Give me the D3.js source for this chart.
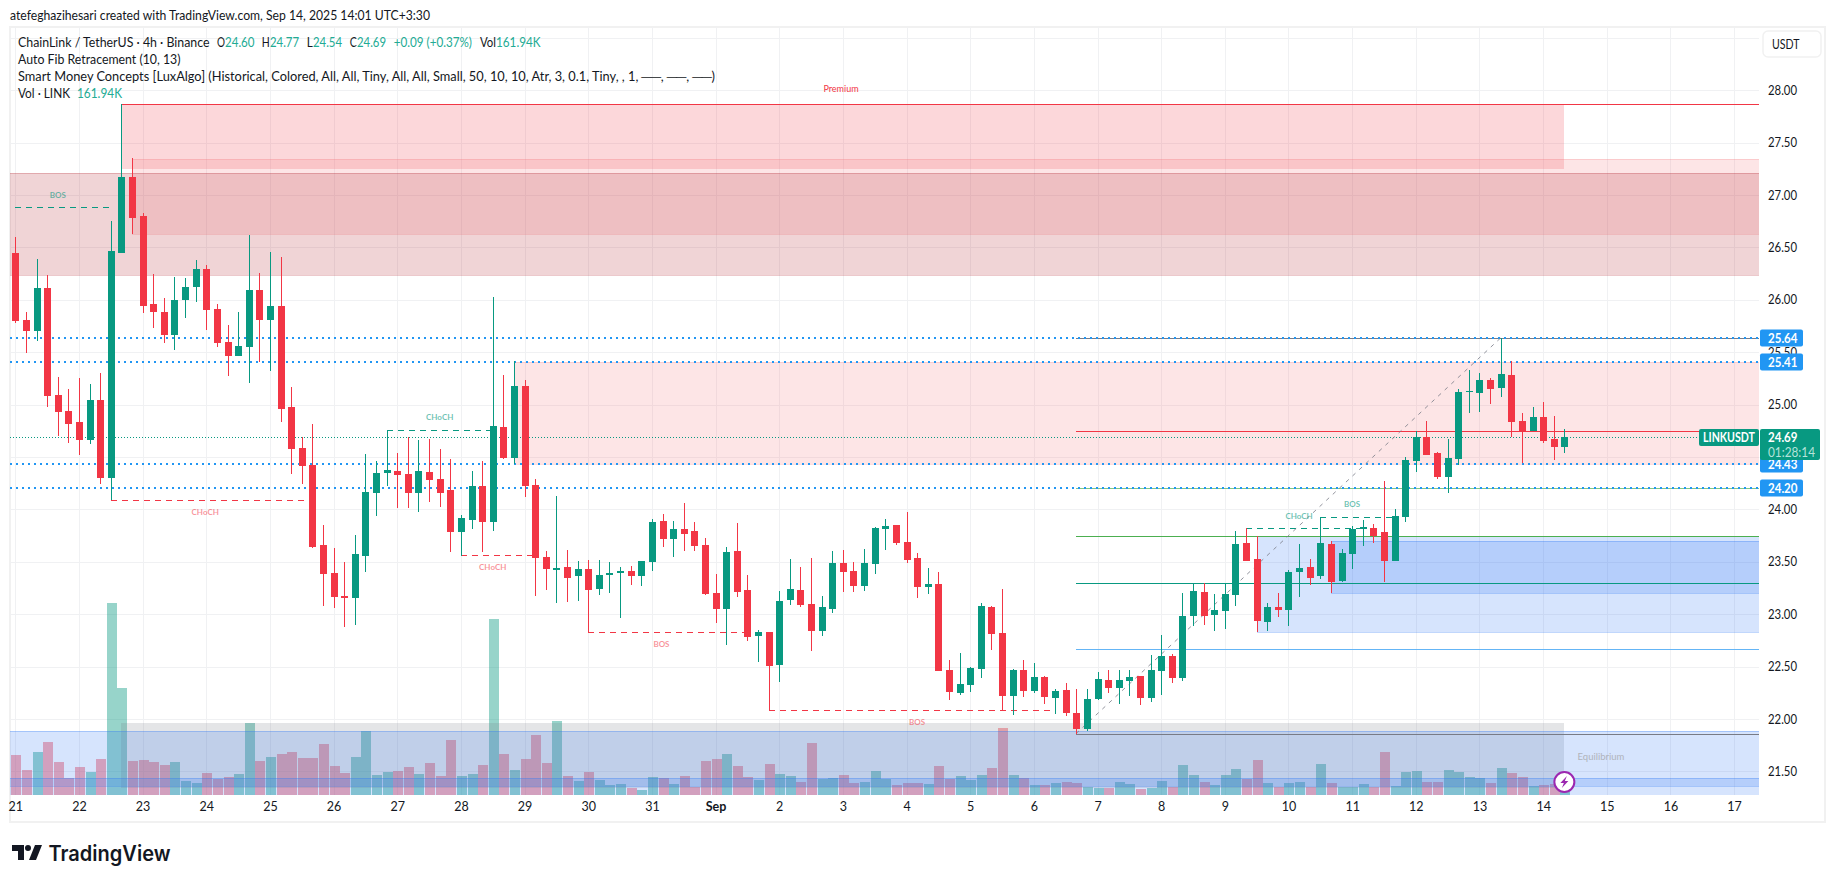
<!DOCTYPE html>
<html>
<head>
<meta charset="utf-8">
<title>LINKUSDT 4h</title>
<script src="https://cdn.jsdelivr.net/npm/d3@7/dist/d3.min.js"></script>
<style>
  html, body { margin: 0; padding: 0; background: #fff; }
  svg { display: block; }
  text { font-family: Lato, "Noto Sans", sans-serif; fill: #131722; }
</style>
</head>
<body>
<svg id="chart" width="1835" height="883"></svg>
<script>
// 4h candles, LINK / USDT on Binance, one row per ten bars
const opens = [
  26.45,25.81,25.70,26.11,25.09,24.94,24.83,24.66,25.04,24.30,
  26.45,27.17,26.80,25.96,25.88,25.66,26.00,26.12,26.29,25.91,
  25.60,25.46,25.55,26.09,25.81,25.94,24.98,24.59,24.42,23.66,
  23.39,23.17,23.15,23.56,24.16,24.35,24.37,24.34,24.16,24.36,
  24.29,24.19,23.78,23.90,24.22,23.88,24.79,24.49,25.18,24.23,
  23.55,23.42,23.45,23.36,23.43,23.24,23.37,23.39,23.41,23.36,
  23.50,23.89,23.72,23.81,23.79,23.66,23.20,23.05,23.60,23.23,
  22.79,22.83,22.52,23.14,23.23,23.10,22.84,23.05,23.49,23.41,
  23.27,23.48,23.81,23.85,23.69,23.54,23.26,23.29,22.47,22.25,
  22.32,22.48,23.07,22.82,22.22,22.47,22.27,22.40,22.20,22.28,
  22.06,21.90,22.19,22.37,22.30,22.36,22.41,22.20,22.46,22.60,
  22.39,22.98,23.21,22.99,23.03,23.18,23.68,23.53,22.93,23.07,
  23.04,23.40,23.45,23.36,23.67,23.32,23.57,23.81,23.82,23.78,
  23.51,23.93,24.46,24.69,24.54,24.31,24.48,25.12,25.11,25.24,
  25.16,25.28,24.84,24.75,24.88,24.67,24.60];
const highs = [
  26.60,25.88,26.39,26.24,25.26,25.15,25.25,25.20,25.30,26.75,
  27.87,27.35,26.83,26.25,26.02,26.22,26.21,26.38,26.33,25.96,
  25.76,25.88,26.62,26.26,26.46,26.41,25.17,24.69,24.82,23.85,
  23.63,23.50,23.76,24.53,24.46,24.76,24.54,24.69,24.66,24.67,
  24.58,24.48,23.95,24.37,24.46,26.03,25.28,25.42,25.24,24.29,
  23.60,24.13,23.61,23.51,23.52,23.52,23.50,23.45,23.46,23.51,
  23.91,23.96,23.89,24.06,23.88,23.73,23.38,23.64,23.87,23.37,
  22.85,22.83,23.22,23.53,23.45,23.54,23.17,23.60,23.61,23.50,
  23.62,23.83,23.91,23.85,23.98,23.58,23.44,23.40,22.56,22.63,
  22.50,23.11,23.08,23.24,22.48,22.56,22.53,22.41,22.29,22.34,
  22.29,22.29,22.45,22.47,22.47,22.47,22.41,22.61,22.80,22.62,
  23.20,23.30,23.30,23.19,23.30,23.79,23.82,23.75,23.11,23.20,
  23.42,23.67,23.53,23.93,23.70,23.62,23.84,23.90,23.86,24.27,
  24.00,24.50,24.75,24.84,24.55,24.67,25.15,25.33,25.30,25.25,
  25.64,25.42,24.92,24.98,25.03,24.89,24.77];
const lows = [
  25.78,25.49,25.61,24.98,24.70,24.63,24.52,24.62,24.24,24.09,
  26.45,26.63,25.87,25.73,25.59,25.52,25.83,25.98,25.71,25.55,
  25.27,25.46,25.21,25.41,25.32,24.83,24.34,24.24,23.63,23.08,
  23.06,22.88,22.90,23.40,23.94,24.22,24.01,24.01,23.98,24.07,
  24.02,23.59,23.56,23.81,23.59,23.79,24.48,24.43,24.12,23.17,
  23.23,23.11,23.12,23.13,22.83,23.18,23.20,22.96,23.28,23.27,
  23.41,23.64,23.55,23.60,23.60,23.18,22.92,22.71,23.16,22.74,
  22.54,22.09,22.35,23.09,23.07,22.65,22.79,23.01,23.21,23.21,
  23.22,23.38,23.61,23.66,23.49,23.15,23.19,22.46,22.18,22.23,
  22.26,22.39,22.66,22.09,22.04,22.21,22.25,22.14,22.05,22.03,
  21.86,21.89,22.18,22.25,22.14,22.22,22.13,22.16,22.23,22.34,
  22.36,22.89,22.90,22.84,22.86,23.08,23.51,22.83,22.84,22.97,
  22.89,23.16,23.28,23.34,23.20,23.31,23.43,23.65,23.68,23.31,
  23.51,23.88,24.36,24.52,24.29,24.16,24.42,24.92,24.93,25.01,
  25.07,24.69,24.44,24.75,24.63,24.47,24.54];
const closes = [
  25.80,25.70,26.11,25.08,24.93,24.82,24.66,25.04,24.30,26.47,
  27.17,26.78,25.94,25.88,25.66,26.00,26.12,26.29,25.90,25.59,
  25.46,25.56,26.09,25.81,25.94,24.96,24.58,24.41,23.64,23.38,
  23.16,23.15,23.57,24.17,24.35,24.38,24.33,24.16,24.37,24.28,
  24.16,23.78,23.92,24.22,23.88,24.80,24.49,25.18,24.22,23.54,
  23.43,23.44,23.35,23.43,23.23,23.37,23.39,23.41,23.36,23.51,
  23.88,23.72,23.81,23.77,23.65,23.19,23.05,23.59,23.21,22.78,
  22.83,22.51,23.13,23.24,23.09,22.84,23.07,23.49,23.40,23.27,
  23.49,23.82,23.84,23.68,23.52,23.26,23.29,22.46,22.26,22.33,
  22.49,23.08,22.81,22.22,22.47,22.27,22.40,22.21,22.27,22.06,
  21.90,22.19,22.38,22.30,22.37,22.40,22.20,22.47,22.60,22.39,
  22.98,23.22,22.98,23.04,23.19,23.67,23.51,22.94,23.07,23.04,
  23.40,23.44,23.35,23.68,23.31,23.58,23.81,23.83,23.75,23.51,
  23.94,24.47,24.69,24.52,24.31,24.49,25.12,25.13,25.24,25.15,
  25.29,24.83,24.74,24.88,24.65,24.60,24.69];
// Volume per bar, thousands of LINK
const volumes = [
  1600,1000,1720,2120,1320,680,1120,920,1440,7680,
  4280,1360,1400,1320,1200,1320,560,480,880,640,
  720,840,2880,1360,1520,1640,1720,1480,1480,2040,
  1160,880,1520,2560,800,920,960,1120,840,1280,
  760,2200,760,840,1200,7040,1640,1000,1440,2400,
  1280,2960,760,560,920,600,400,440,280,200,
  720,680,440,760,320,1360,1440,1640,1160,720,
  600,1240,840,760,520,2080,640,680,800,480,
  520,960,640,400,480,480,440,1160,640,760,
  600,800,1080,2680,800,680,400,400,480,520,
  480,320,280,280,520,440,240,280,560,320,
  1200,800,520,400,800,1040,640,1400,480,320,
  480,520,320,1240,480,320,320,440,320,1720,
  360,920,960,520,520,1000,920,720,680,480,
  1080,880,720,360,400,440,161.94];

const dayLabels = ["21","22","23","24","25","26","27","28","29","30","31","Sep",
  "2","3","4","5","6","7","8","9","10","11","12","13","14","15","16","17"];
const barsPerDay = 6;
const gridPrices = [28.5,28,27.5,27,26.5,26,25.5,25,24.5,24,23.5,23,22.5,22,21.5];
const labelledPrices = [28,27.5,27,26.5,26,25.5,25,24,23.5,23,22.5,22,21.5];
const keyLevels = [25.64, 25.41, 24.43, 24.20];
const lastPrice = 24.69;
const fibLevels = [
  {price: 25.64, tone: "#787b86"},
  {price: 24.75, tone: "#f23645"},
  {price: 24.20, tone: "#81c784"},
  {price: 23.75, tone: "#4caf50"},
  {price: 23.30, tone: "#089981"},
  {price: 22.67, tone: "#64b5f6"},
  {price: 21.86, tone: "#787b86"}
];
const fibStartBar = 100, fibEndBar = 140, fibLow = 21.86, fibHigh = 25.64;

// Zones: first bar, last bar (null runs to the chart edge), upper price, lower price
const premiumZones  = [{from: 10, to: 146, top: 27.87, bottom: 27.25}];
const equilibriumZones = [{from: 10, to: 146, top: 21.96, bottom: 21.345}];
const bearBlocks = [
  {from: 11, to: null, top: 27.345, bottom: 26.63},
  {from: 47, to: null, top: 25.405, bottom: 24.43}
];
const bearBlocksStrong = [{from: null, to: null, top: 27.208, bottom: 26.24}];
const bullBlocks = [
  {from: 117, to: null, top: 23.75, bottom: 22.83},
  {from: 124, to: null, top: 23.70, bottom: 23.205},
  {from: null, to: null, top: 21.89, bottom: 21.276},
  {from: null, to: null, top: 21.435, bottom: 21.365}
];

// Market structure breaks
const structure = [
  {name: "BOS",   up: true,  from: 0,   to: 9,   price: 26.89, bar: 4,     lift: 12},
  {name: "CHoCH", up: false, from: 9,   to: 28,  price: 24.09, bar: 17.9,  lift: -12},
  {name: "CHoCH", up: true,  from: 35,  to: 45,  price: 24.755, bar: 40,   lift: 13},
  {name: "CHoCH", up: false, from: 42,  to: 49,  price: 23.563, bar: 45,   lift: -12},
  {name: "BOS",   up: false, from: 54,  to: 69,  price: 22.827, bar: 60.9, lift: -12},
  {name: "BOS",   up: false, from: 71,  to: 98,  price: 22.09,  bar: 85,   lift: -12},
  {name: "CHoCH", up: true,  from: 116, to: 127, price: 23.82,  bar: 121,  lift: 12},
  {name: "BOS",   up: true,  from: 123, to: 130, price: 23.926, bar: 126,  lift: 13}
];

const UP = "#089981", DOWN = "#f23645", BLUE = "#2196f3";
const plot = {left: 10, right: 1759, top: 27, bottom: 795};

const svg = d3.select("#chart");
svg.append("defs").append("clipPath").attr("id", "plot-clip").append("rect")
  .attr("x", plot.left).attr("y", plot.top)
  .attr("width", plot.right - plot.left).attr("height", plot.bottom - plot.top);

const x = d3.scaleLinear().domain([0, 146]).range([15.3, 15.3 + 146 * 10.61]);
const y = d3.scaleLinear().domain([28, 22]).range([90.3, 719]);
const yVol = d3.scaleLinear().domain([0, d3.max(volumes)]).range([plot.bottom, plot.bottom - 192]);
const bx = i => Math.round(x(i));
const py = p => Math.round(y(p)) + 0.5;

// Outer frame
svg.append("rect").attr("x", 10).attr("y", 27).attr("width", 1815).attr("height", 795)
  .attr("fill", "none").attr("stroke", "#f1f1f1").attr("stroke-width", 2);

const chart = svg.append("g").attr("clip-path", "url(#plot-clip)");

// Grid
const grid = chart.append("g").attr("stroke", "#f0f1f3").attr("stroke-width", 1).attr("shape-rendering", "crispEdges");
grid.selectAll("line.h").data(gridPrices).join("line").attr("class", "h")
  .attr("x1", plot.left).attr("x2", plot.right)
  .attr("y1", d => py(d)).attr("y2", d => py(d));
grid.selectAll("line.v").data(dayLabels).join("line").attr("class", "v")
  .attr("y1", plot.top).attr("y2", plot.bottom)
  .attr("x1", (d, k) => bx(k * barsPerDay) + 0.5).attr("x2", (d, k) => bx(k * barsPerDay) + 0.5);

// Volume columns sit under the zones
chart.append("g").attr("shape-rendering", "crispEdges").selectAll("rect").data(volumes).join("rect")
  .attr("x", (d, i) => bx(i) - 4.5).attr("width", 10)
  .attr("y", d => yVol(d)).attr("height", d => plot.bottom - yVol(d))
  .attr("fill", (d, i) => closes[i] >= opens[i] ? "rgba(8,153,129,0.42)" : "rgba(242,54,69,0.42)");

// Shaded zones with thin top and bottom edges
function drawZones(list, fill, edge) {
  const g = chart.append("g").attr("shape-rendering", "crispEdges");
  const xa = d => d.from === null ? plot.left : bx(d.from);
  const xb = d => d.to === null ? plot.right : bx(d.to);
  g.selectAll("rect").data(list).join("rect")
    .attr("x", xa).attr("width", d => xb(d) - xa(d))
    .attr("y", d => y(d.top)).attr("height", d => y(d.bottom) - y(d.top))
    .attr("fill", fill);
  if (edge) {
    g.selectAll("line.t").data(list).join("line").attr("class", "t")
      .attr("x1", xa).attr("x2", xb).attr("y1", d => py(d.top)).attr("y2", d => py(d.top))
      .attr("stroke", edge);
    g.selectAll("line.b").data(list).join("line").attr("class", "b")
      .attr("x1", xa).attr("x2", xb).attr("y1", d => py(d.bottom)).attr("y2", d => py(d.bottom))
      .attr("stroke", edge);
  }
}
drawZones(premiumZones, "rgba(242,54,69,0.2)");
drawZones(equilibriumZones, "rgba(120,123,134,0.2)");
drawZones(bearBlocks, "rgba(247,124,128,0.2)", "rgba(247,124,128,0.25)");
drawZones(bearBlocksStrong, "rgba(178,40,51,0.2)", "rgba(178,40,51,0.25)");
drawZones(bullBlocks, "rgba(49,121,245,0.2)", "rgba(49,121,245,0.3)");

const crisp = chart.append("g").attr("shape-rendering", "crispEdges");

// Range top of the premium zone
crisp.append("line").attr("x1", bx(10)).attr("x2", plot.right)
  .attr("y1", py(27.87)).attr("y2", py(27.87))
  .attr("stroke", DOWN).attr("stroke-width", 1);

// Fibonacci retracement
crisp.append("g").selectAll("line").data(fibLevels).join("line")
  .attr("x1", bx(fibStartBar)).attr("x2", plot.right)
  .attr("y1", d => py(d.price)).attr("y2", d => py(d.price))
  .attr("stroke", d => d.tone).attr("stroke-width", 1);
chart.append("line")
  .attr("x1", bx(fibStartBar)).attr("y1", y(fibLow))
  .attr("x2", bx(fibEndBar)).attr("y2", y(fibHigh))
  .attr("stroke", "#787b86").attr("stroke-opacity", 0.8).attr("stroke-dasharray", "4,5");

// Horizontal key levels
crisp.append("g").selectAll("line").data(keyLevels).join("line")
  .attr("x1", plot.left).attr("x2", plot.right)
  .attr("y1", d => Math.round(y(d))).attr("y2", d => Math.round(y(d)))
  .attr("stroke", BLUE).attr("stroke-width", 2).attr("stroke-dasharray", "2,4");
crisp.append("line").attr("x1", plot.left).attr("x2", plot.right)
  .attr("y1", py(lastPrice)).attr("y2", py(lastPrice))
  .attr("stroke", UP).attr("stroke-width", 1).attr("stroke-dasharray", "1,2");

// Structure break dashes
crisp.append("g").selectAll("line").data(structure).join("line")
  .attr("x1", d => bx(d.from)).attr("x2", d => bx(d.to))
  .attr("y1", d => py(d.price)).attr("y2", d => py(d.price))
  .attr("stroke", d => d.up ? UP : DOWN).attr("stroke-dasharray", "6,5").attr("stroke-width", 1);

// Candles
const candles = chart.append("g").attr("shape-rendering", "crispEdges")
  .selectAll("g").data(d3.range(opens.length)).join("g");
candles.append("line")
  .attr("x1", i => bx(i) + 0.5).attr("x2", i => bx(i) + 0.5)
  .attr("y1", i => y(highs[i])).attr("y2", i => y(lows[i]))
  .attr("stroke", i => closes[i] >= opens[i] ? UP : DOWN);
candles.append("rect")
  .attr("x", i => bx(i) - 3).attr("width", 7)
  .attr("y", i => y(Math.max(opens[i], closes[i])))
  .attr("height", i => Math.max(1, Math.abs(y(opens[i]) - y(closes[i]))))
  .attr("fill", i => closes[i] >= opens[i] ? UP : DOWN);

// Structure labels
chart.append("g").selectAll("text").data(structure).join("text")
  .attr("x", d => x(d.bar)).attr("y", d => y(d.price) - d.lift)
  .attr("text-anchor", "middle").attr("dominant-baseline", "central")
  .attr("font-size", 8).attr("font-weight", 700)
  .style("fill", d => d.up ? "rgba(8,153,129,0.6)" : "rgba(242,54,69,0.55)")
  .text(d => d.name);
chart.append("text").attr("x", 841).attr("y", 88.5)
  .attr("text-anchor", "middle").attr("dominant-baseline", "central")
  .attr("font-size", 9).style("fill", DOWN).text("Premium");
chart.append("text").attr("x", 1601).attr("y", 756)
  .attr("text-anchor", "middle").attr("dominant-baseline", "central")
  .attr("font-size", 9.5).style("fill", "#b0b3bb").text("Equilibrium");

// Axes
const axisFont = 12.5;
const yAxis = d3.axisRight(y).tickValues(labelledPrices).tickFormat(d3.format(".2f")).tickSize(0).tickPadding(9);
svg.append("g").attr("transform", `translate(${plot.right},0)`).call(yAxis)
  .call(g => g.select(".domain").remove())
  .call(g => g.selectAll("text").attr("font-size", axisFont).style("font-family", null).attr("textLength", 29).attr("lengthAdjust", "spacingAndGlyphs"));
const xAxis = d3.axisBottom(x).tickValues(dayLabels.map((d, k) => k * barsPerDay))
  .tickFormat(v => dayLabels[v / barsPerDay]).tickSize(0).tickPadding(7);
svg.append("g").attr("transform", `translate(0,${plot.bottom})`).call(xAxis)
  .call(g => g.select(".domain").remove())
  .call(g => g.selectAll("text").attr("font-size", axisFont).style("font-family", null)
    .attr("font-weight", d => d === 66 ? 700 : 400));

// Text stretched to a known run width
function fitted(parent, at, row, width, size, label, colour) {
  return parent.append("text").attr("x", at).attr("y", row).attr("dominant-baseline", "central")
    .attr("font-size", size).attr("textLength", width).attr("lengthAdjust", "spacingAndGlyphs")
    .style("fill", colour || "#131722").text(label);
}

// Currency button
svg.append("rect").attr("x", 1763).attr("y", 31).attr("width", 58).attr("height", 26).attr("rx", 5)
  .attr("fill", "#fff").attr("stroke", "#f1f1f1").attr("stroke-width", 1.5);
fitted(svg, 1772, 44, 27.5, 13, "USDT");

// Price tags on the axis
keyLevels.forEach(p => {
  const cy = Math.round(y(p));
  svg.append("rect").attr("x", 1760).attr("y", cy - 8.5).attr("width", 43).attr("height", 17).attr("rx", 2).attr("fill", BLUE);
  fitted(svg, 1768, cy, 29.5, axisFont, d3.format(".2f")(p), "#fff").attr("font-weight", 700);
});
svg.append("rect").attr("x", 1760).attr("y", 429).attr("width", 60).attr("height", 31).attr("rx", 2).attr("fill", UP);
fitted(svg, 1768, y(lastPrice), 29.5, axisFont, d3.format(".2f")(lastPrice), "#fff").attr("font-weight", 700);
fitted(svg, 1768, 452, 47, axisFont, "01:28:14", "#b5e3da");
svg.append("rect").attr("x", 1699).attr("y", 429).attr("width", 60).attr("height", 17).attr("rx", 2).attr("fill", UP);
fitted(svg, 1703, 437.5, 52, 12.5, "LINKUSDT", "#fff").attr("font-weight", 700);

// Live-update marker at the last bar
const marker = svg.append("g").attr("transform", `translate(${x(146)},782)`);
marker.append("circle").attr("r", 10).attr("fill", "#fff").attr("stroke", "#9c27b0").attr("stroke-width", 2);
marker.append("path").attr("d", "M2.5,-6 L-4,1 L-0.5,1 L-2.5,6 L4,-1 L0.5,-1 Z").attr("fill", "#9c27b0");

// Title lines
fitted(svg, 10, 15, 420, 13.5, "atefeghazihesari created with TradingView.com, Sep 14, 2025 14:01 UTC+3:30");
const legendRows = [
  {row: 41.5, width: 191.5, text: "ChainLink / TetherUS · 4h · Binance"},
  {row: 59, width: 162.5, text: "Auto Fib Retracement (10, 13)"},
  {row: 76, width: 697, text: "Smart Money Concepts [LuxAlgo] (Historical, Colored, All, All, Tiny, All, All, Small, 50, 10, 10, Atr, 3, 0.1, Tiny, , 1, ──, ──, ──)"},
  {row: 93, width: 52, text: "Vol · LINK"}
];
legendRows.forEach(d => fitted(svg, 18, d.row, d.width, 13, d.text));
const quoteKeys = [
  {at: 217, width: 8, label: "O"},
  {at: 261.7, width: 8, label: "H"},
  {at: 306.8, width: 6, label: "L"},
  {at: 349.8, width: 7, label: "C"},
  {at: 480, width: 16, label: "Vol"}
];
const quoteValues = [
  {at: 225, width: 29.5, label: "24.60"},
  {at: 270, width: 29, label: "24.77"},
  {at: 313, width: 29, label: "24.54"},
  {at: 357, width: 29, label: "24.69"},
  {at: 393.7, width: 78.3, label: "+0.09 (+0.37%)"},
  {at: 496, width: 44.5, label: "161.94K"}
];
quoteKeys.forEach(d => fitted(svg, d.at, 41.5, d.width, 13, d.label));
quoteValues.forEach(d => fitted(svg, d.at, 41.5, d.width, 13, d.label, "#22ab94"));
fitted(svg, 77, 93, 45, 13, "161.94K", "#22ab94");

// Wordmark
svg.append("path").attr("transform", "translate(10,839)")
  .attr("d", "M14 6H2v6h6v9h6V6Zm12 15h-7l6-15h7l-6 15Zm-8-9a3 3 0 1 0 0-6 3 3 0 0 0 0 6Z").attr("fill", "#131722");
fitted(svg, 48.5, 853.5, 122, 21, "TradingView").attr("font-weight", 600).style("font-family", "Inter");
</script>
</body>
</html>
